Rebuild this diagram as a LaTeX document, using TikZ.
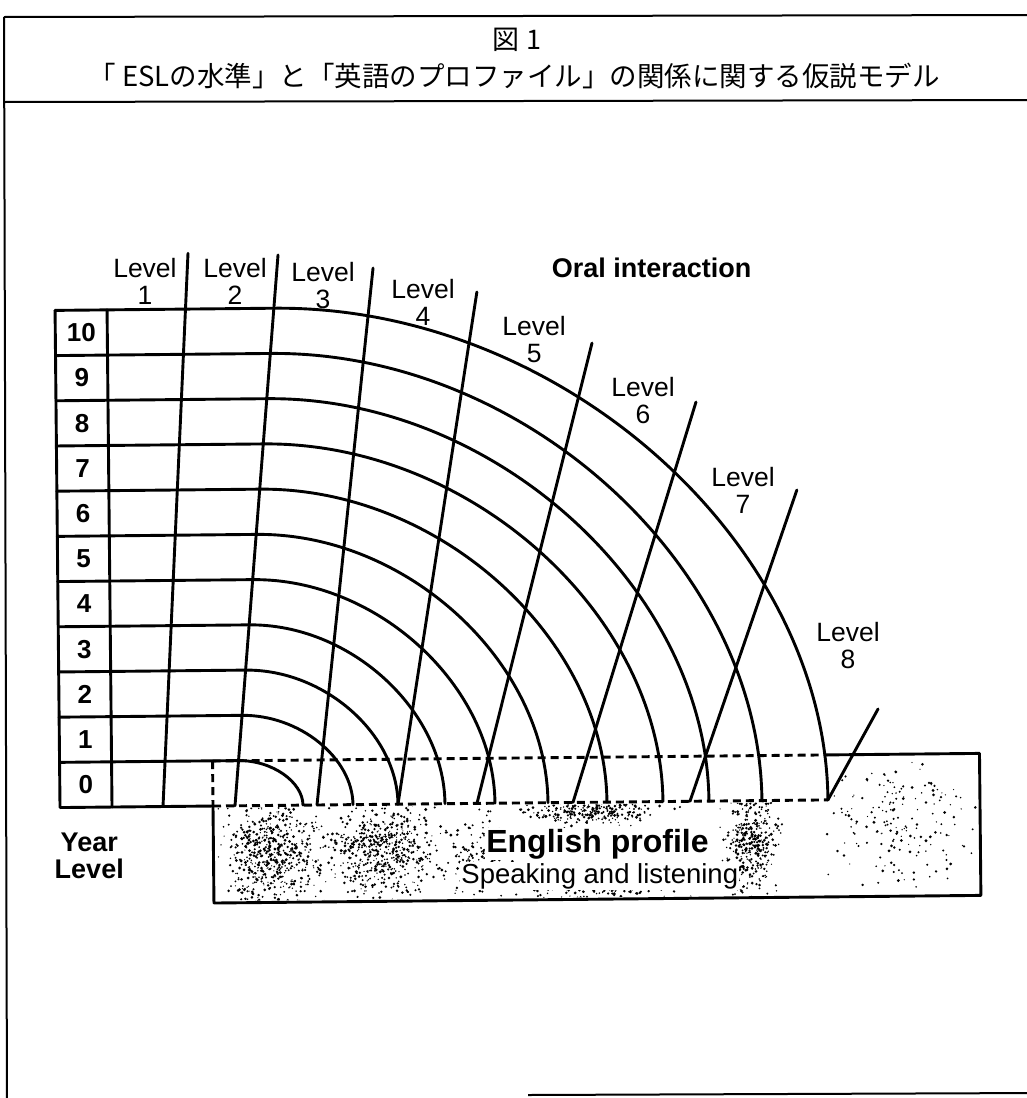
\documentclass[tikz,border=0pt]{standalone}
\usepackage{fontspec}
\setmainfont{Liberation Sans}
\newfontfamily\cjk{Noto Sans CJK JP}
\newcommand\speckle[5]{% n, cx, cy, sx, sy
  \foreach \i in {1,...,#1}{%
    \pgfmathsetmacro\dx{#2+#4*(rnd+rnd+rnd-1.5)/1.5}%
    \pgfmathsetmacro\dy{#3+#5*(rnd+rnd+rnd-1.5)/1.5}%
    \pgfmathsetmacro\dr{0.6+1.0*rnd}%
    \fill (\dx,\dy) circle (\dr pt);}}
\begin{document}
\begin{tikzpicture}[x=1pt,y=-1pt,
  ln/.style={line width=2.9pt, line cap=round, line join=round},
  dsh/.style={line width=2.9pt, dash pattern=on 8pt off 5pt},
  frm/.style={line width=2pt},
  lvl/.style={font=\fontsize{26.5}{27}\selectfont, align=center, inner sep=0pt, anchor=north},
  num/.style={font=\fontsize{26}{27}\selectfont\bfseries, inner sep=0pt},
  boldlab/.style={font=\fontsize{27}{27}\selectfont\bfseries, align=center, inner sep=0pt, anchor=north}]
\useasboundingbox (0,0) rectangle (1027,1098);
\clip (0,0) rectangle (1027,1098);
\fill[white] (0,0) rectangle (1027,1098);
% frame
\draw[frm] (4,17) -- (1040,15);
\draw[frm] (4,102) -- (1040,100);
\draw[frm] (4,17) -- (7,1110);
\draw[frm] (528,1095) -- (1040,1093);
% titles
\node[font=\cjk\fontsize{27}{27}\selectfont, inner sep=0pt] (fig) at (517,40) {図 1};
\node[font=\cjk\fontsize{27.5}{28}\selectfont, inner sep=0pt] (title) at (514,76) {「 ESLの水準」と「英語のプロファイル」の関係に関する仮説モデル};
\begin{scope}[rotate around={0.57:(215,806)}]
  % stipple inside the profile box
  \begin{scope}
    \clip (215,808) -- (828,808) -- (828,763) -- (978,763) -- (978,901) -- (215,901) -- cycle;
    \pgfmathsetseed{4242}
    \speckle{600}{272}{855}{72}{75}
    \speckle{600}{382}{852}{78}{72}
    \speckle{160}{480}{860}{45}{60}
    \speckle{260}{590}{815}{95}{18}
    \speckle{90}{600}{895}{110}{12}
    \speckle{380}{752}{845}{35}{75}
    \speckle{180}{900}{830}{110}{90}
  \end{scope}
  % arcs (row lines)
  \foreach \k/\xe in {0/303,1/353,2/398,3/445,4/495,5/548,6/607,7/663,8/709,9/762,10/828}{
    \pgfmathsetmacro\yk{806-45.2*(\k+1)}
    \pgfmathsetmacro\xs{235+(806-\yk)*0.0881}
    \pgfmathsetmacro\ca{\xs+0.52*(\xe-\xs)}
    \pgfmathsetmacro\cb{806-0.52*(806-\yk)}
    \draw[ln] (60,\yk) -- (\xs,\yk) .. controls (\ca,\yk) and (\xe,\cb) .. (\xe,806);
  }
  % year box
  \draw[ln] (60,308.8) -- (60,806) -- (213,806);
  \draw[ln] (112,308.8) -- (112,806);
  \foreach \k in {0,...,10}{
    \pgfmathsetmacro\yc{806-45.2*\k-22.6}
    \node[num] (n\k) at (86,\yc) {\k};
  }
  % level lines
  \foreach \i/\xt/\yt/\xb in {1/193.5/253/163, 2/283.5/255.6/235, 3/378.4/269.6/317, 4/482/294.6/398, 5/596.6/346.8/477, 6/700/406.8/573, 7/800/495.8/690, 8/879/715.6/828}{
    \draw[ln] (\xt,\yt) -- (\xb,806);
  }
  \foreach \i/\x/\y in {1/150.4/257.3, 2/240.5/258.2, 3/328.4/263.1, 4/428.3/281, 5/539/319, 6/647.3/381.3, 7/746.4/472.3, 8/849.8/628.3}{
    \node[lvl] (lab\i) at (\x,\y) {Level\\\i};
  }
  \node[font=\fontsize{27}{27}\selectfont\bfseries, inner sep=0pt, anchor=north] (oral) at (657,262) {Oral interaction};
  \node[boldlab] (yl) at (89,831) {Year\\Level};
  % profile box
  \draw[dsh] (213,761) -- (828,761);
  \draw[dsh] (213,806) -- (828,806);
  \draw[dsh] (213,761) -- (213,806);
  \draw[ln] (828,761) -- (980,761) -- (980,903) -- (213,903) -- (213,806);
  \node[font=\fontsize{32}{32}\selectfont\bfseries, fill=white, inner sep=1pt, anchor=base] (ep) at (597,856) {English profile};
  \node[font=\fontsize{27.5}{28}\selectfont, fill=white, inner sep=1pt, anchor=base] (sl) at (599,887) {Speaking and listening};
\end{scope}
\end{tikzpicture}
\end{document}
